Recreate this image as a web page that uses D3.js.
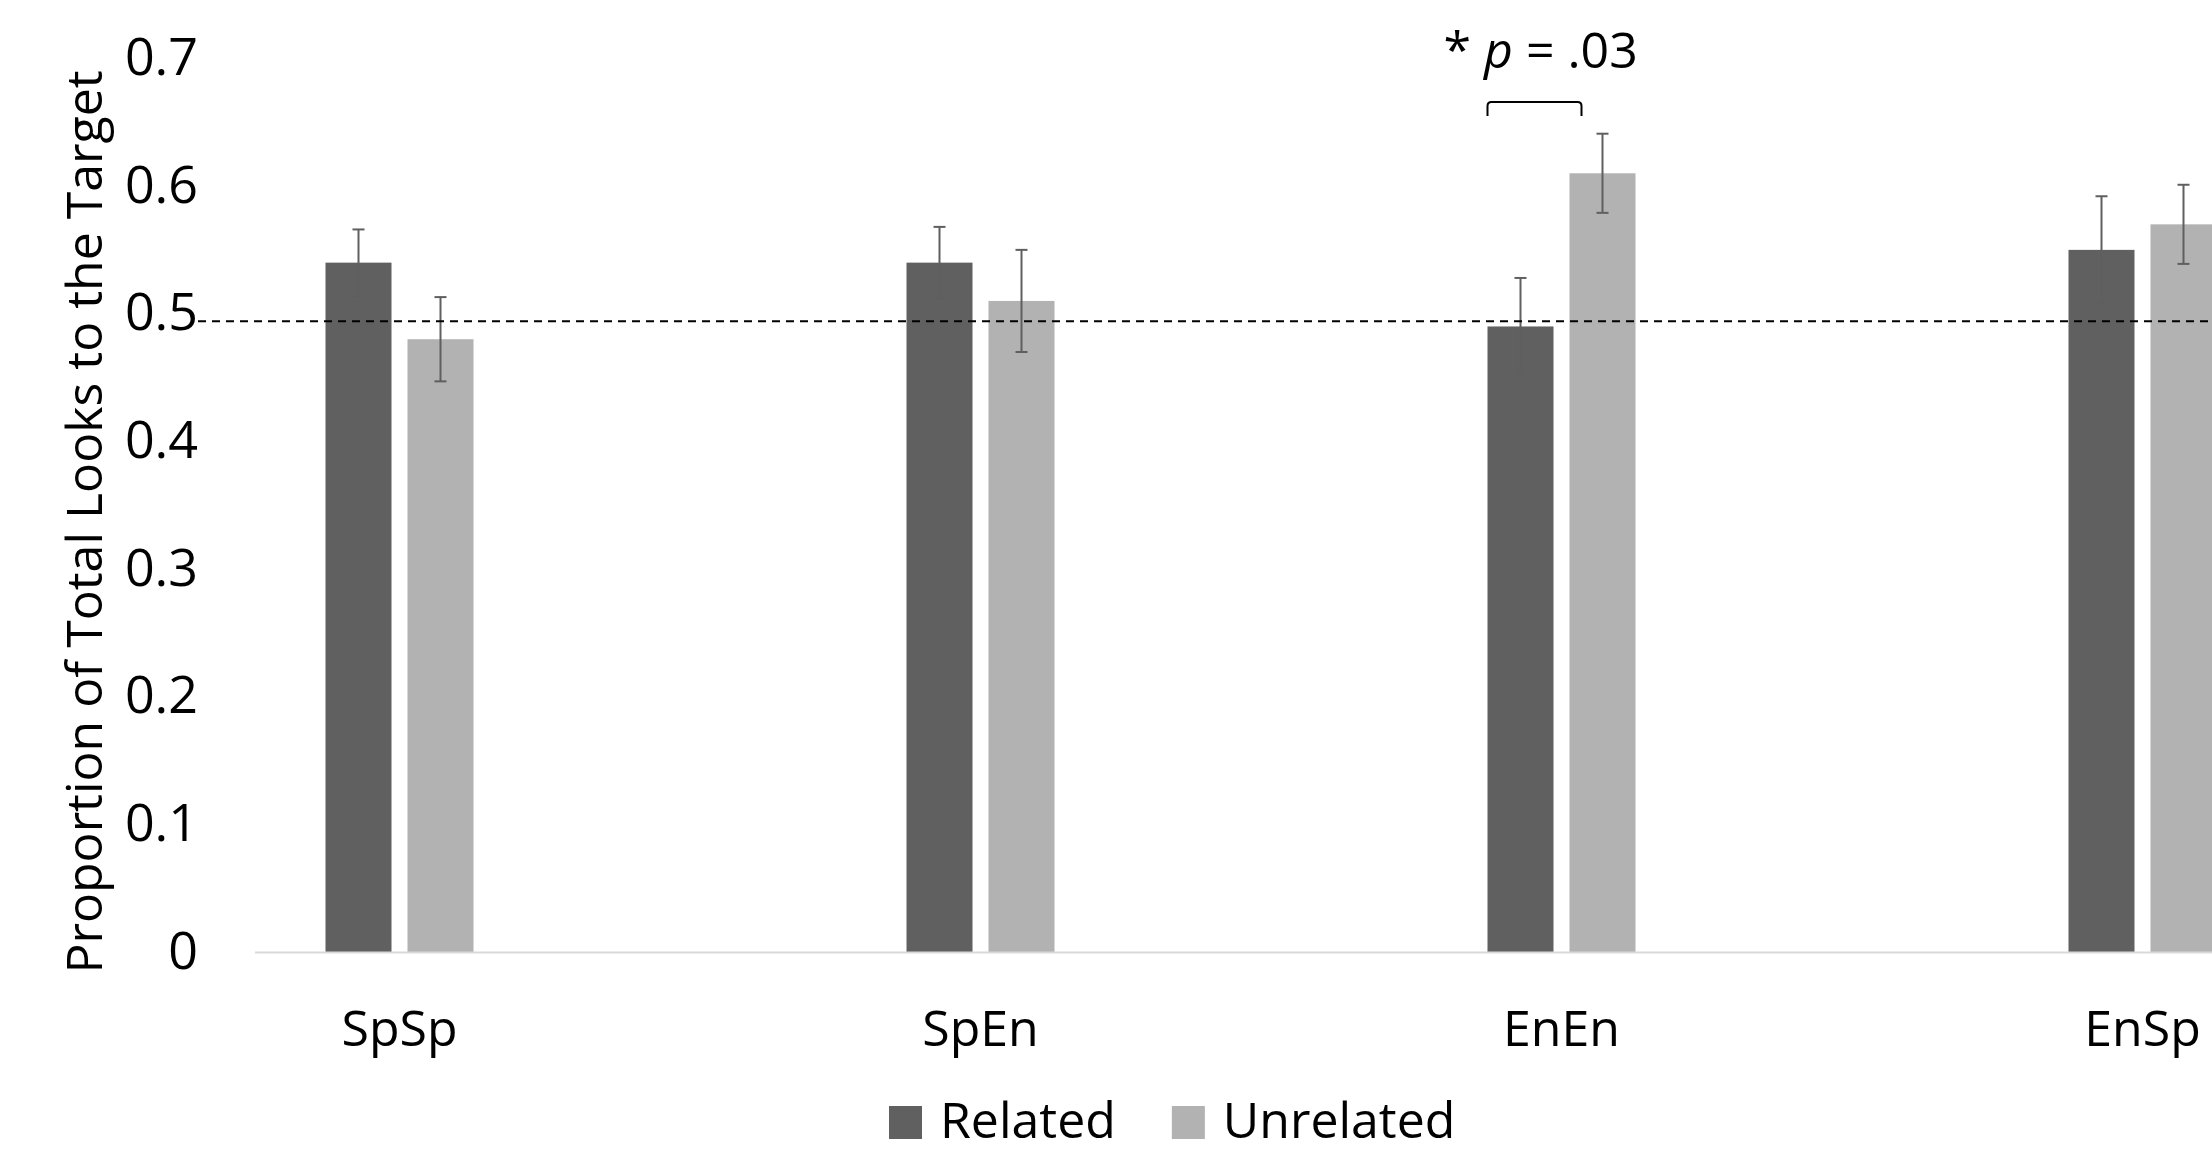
<!DOCTYPE html>
<html>
<head>
<meta charset="utf-8">
<script src="https://cdn.jsdelivr.net/npm/d3@7"></script>
<style>
  html, body { margin: 0; padding: 0; background: #fff; }
  svg { display: block; font-family: "Open Sans", sans-serif; }
</style>
</head>
<body>
<div id="chart"></div>
<script>
// Data
const categories = ['SpSp', 'SpEn', 'EnEn', 'EnSp'];
const seriesNames = ['Related', 'Unrelated'];
const relatedValues = [0.54, 0.54, 0.49, 0.55];
const unrelatedValues = [0.48, 0.51, 0.61, 0.57];
const relatedErrors = [0.026, 0.028, 0.038, 0.042];
const unrelatedErrors = [0.033, 0.040, 0.031, 0.031];
const yTicks = [0, 0.1, 0.2, 0.3, 0.4, 0.5, 0.6, 0.7];
const chanceLevel = 0.494;
const seriesColors = ['#606060', '#b2b2b2'];

const width = 2212;
const height = 1162;

const svg = d3.select('#chart')
    .append('svg')
    .attr('width', width)
    .attr('height', height);

// Scales
const bandStart = 109;
const bandWidth = 581;
const x = d3.scaleBand()
    .domain(categories)
    .range([bandStart, bandStart + bandWidth * categories.length]);

const xInner = d3.scaleBand()
    .domain(seriesNames)
    .range([-74, 74])
    .paddingInner(16 / 82);

const y = d3.scaleLinear()
    .domain([0, 0.7])
    .range([952, 952 - 0.7 * 1276.6]);

const centre = c => x(c) + x.bandwidth() / 2;

// Rows for each bar
const rows = [];
categories.forEach((c, i) => {
    rows.push({ cat: c, series: 'Related', value: relatedValues[i], err: relatedErrors[i], color: seriesColors[0] });
    rows.push({ cat: c, series: 'Unrelated', value: unrelatedValues[i], err: unrelatedErrors[i], color: seriesColors[1] });
});

// Y tick labels (no axis line)
const yAxis = svg.append('g')
    .attr('transform', 'translate(198,0)')
    .call(d3.axisLeft(y).tickValues(yTicks).tickSize(0).tickPadding(0)
        .tickFormat(d => d === 0 ? '0' : d3.format('.1f')(d)));
yAxis.select('.domain').remove();
yAxis.selectAll('text')
    .attr('font-family', '"Open Sans", sans-serif')
    .attr('font-size', 52)
    .attr('fill', '#000')
    .attr('dy', null)
    .attr('y', 16);

// Axis title
svg.append('text')
    .attr('transform', 'translate(102,522) rotate(-90)')
    .attr('text-anchor', 'middle')
    .attr('font-size', 50)
    .attr('fill', '#000')
    .text('Proportion of Total Looks to the Target');

// Bars
svg.append('g')
    .selectAll('rect')
    .data(rows)
    .enter()
    .append('rect')
    .attr('x', d => centre(d.cat) + xInner(d.series))
    .attr('y', d => y(d.value))
    .attr('width', xInner.bandwidth())
    .attr('height', d => y(0) - y(d.value))
    .attr('fill', d => d.color);

// Category axis line
svg.append('line')
    .attr('x1', 255)
    .attr('x2', width)
    .attr('y1', y(0) + 0.5)
    .attr('y2', y(0) + 0.5)
    .attr('stroke', '#d9d9d9')
    .attr('stroke-width', 2);

// Category labels
svg.append('g')
    .selectAll('text')
    .data(categories)
    .enter()
    .append('text')
    .attr('x', d => centre(d))
    .attr('y', 1046)
    .attr('text-anchor', 'middle')
    .attr('font-size', 50)
    .attr('fill', '#000')
    .text(d => d);

// Error bars
const errG = svg.append('g')
    .attr('stroke', '#5f5f5f')
    .attr('stroke-width', 2);

rows.forEach(d => {
    const cx = centre(d.cat) + xInner(d.series) + xInner.bandwidth() / 2;
    const top = y(d.value + d.err);
    const bottom = y(d.value - d.err);
    errG.append('line').attr('x1', cx).attr('x2', cx).attr('y1', top).attr('y2', bottom);
    errG.append('line').attr('x1', cx - 6).attr('x2', cx + 6).attr('y1', top).attr('y2', top);
    errG.append('line').attr('x1', cx - 6).attr('x2', cx + 6).attr('y1', bottom).attr('y2', bottom);
});

// Chance level dashed line
svg.append('line')
    .attr('x1', 198)
    .attr('x2', width)
    .attr('y1', y(chanceLevel))
    .attr('y2', y(chanceLevel))
    .attr('stroke', '#000')
    .attr('stroke-width', 2)
    .attr('stroke-dasharray', '8,6');

// Significance bracket over EnEn
const sigC = centre('EnEn');
const bl = sigC - 74, br = sigC + 20, by = 102, bb = 116;
svg.append('path')
    .attr('d', `M${bl},${bb} L${bl},${by + 4} Q${bl},${by} ${bl + 4},${by} L${br - 4},${by} Q${br},${by} ${br},${by + 4} L${br},${bb}`)
    .attr('fill', 'none')
    .attr('stroke', '#000')
    .attr('stroke-width', 2);

const sig = svg.append('text')
    .attr('x', sigC - 118)
    .attr('y', 68)
    .attr('font-size', 50)
    .attr('fill', '#000');
sig.append('tspan').text('* ');
sig.append('tspan').attr('font-style', 'italic').text('p');
sig.append('tspan').text(' = .03');

// Legend
const legend = svg.append('g').attr('transform', 'translate(889,1106)');
let lx = 0;
seriesNames.forEach((name, i) => {
    const item = legend.append('g').attr('transform', `translate(${lx},0)`);
    item.append('rect')
        .attr('width', 33)
        .attr('height', 33)
        .attr('fill', seriesColors[i]);
    const t = item.append('text')
        .attr('x', 51)
        .attr('y', 32)
        .attr('font-size', 50)
        .attr('fill', '#000')
        .text(name);
    lx += 51 + t.node().getComputedTextLength() + 56;
});
</script>
</body>
</html>
